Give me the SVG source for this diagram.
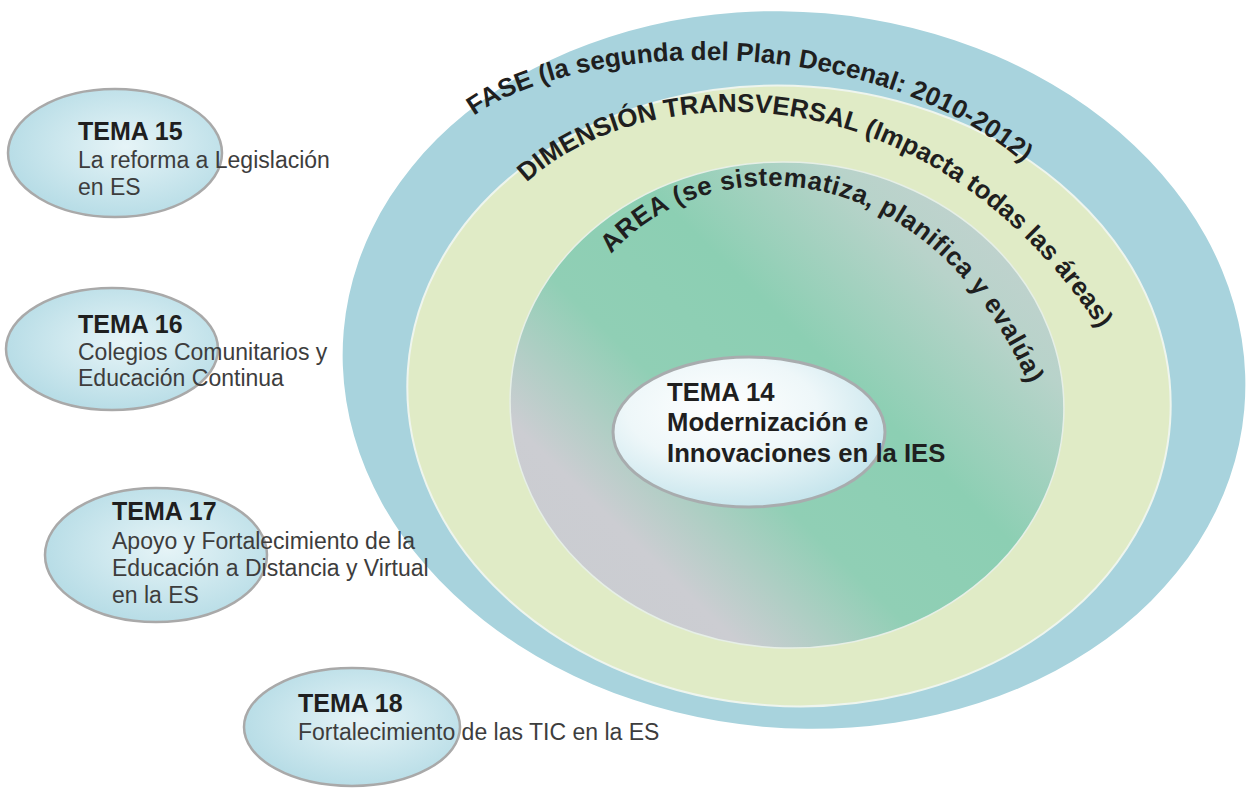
<svg xmlns="http://www.w3.org/2000/svg" width="1247" height="789" viewBox="0 0 1247 789">
<style>
.ring-outer { fill: #a8d3dd; }
.ring-mid { fill: #e0ebc6; stroke: #eef5ee; stroke-width: 2; }
.ring-inner { fill: url(#gInner); stroke: #e6efe6; stroke-width: 1.5; }
.small { fill: url(#gSmall); stroke: #a9a9a9; stroke-width: 2.5; }
.center { fill: url(#gCenter); stroke: #a8acae; stroke-width: 3; }
.b { font-family: "Liberation Sans", Arial, sans-serif; font-weight: bold; font-size: 25px; fill: #1f1f1f; }
.b14 { font-family: "Liberation Sans", Arial, sans-serif; font-weight: bold; font-size: 25.7px; fill: #1f1f1f; }
.r { font-family: "Liberation Sans", Arial, sans-serif; font-size: 23px; fill: #3d3d3d; }
.arc { font-family: "Liberation Sans", Arial, sans-serif; font-weight: bold; font-size: 26px; fill: #1f1f1f; }
</style>
<defs>
<linearGradient id="gInner" x1="1" y1="0" x2="0" y2="1">
<stop offset="0" stop-color="#cbd0d3"/>
<stop offset="0.22" stop-color="#b8d3ca"/>
<stop offset="0.42" stop-color="#8ccfb3"/>
<stop offset="0.6" stop-color="#90cfb5"/>
<stop offset="0.78" stop-color="#cccdd2"/>
<stop offset="1" stop-color="#c8ccd0"/>
</linearGradient>
<radialGradient id="gCenter" cx="0.4" cy="0.35" r="0.7">
<stop offset="0" stop-color="#ffffff"/>
<stop offset="0.5" stop-color="#eef7f9"/>
<stop offset="1" stop-color="#c2e3eb"/>
</radialGradient>
<radialGradient id="gSmall" cx="0.55" cy="0.45" r="0.6">
<stop offset="0" stop-color="#e6f4f7"/>
<stop offset="1" stop-color="#b4dbe5"/>
</radialGradient>
<path id="pFase" d="M 462,125 C 560,40 880,20 1040,178"/>
<path id="pDim" d="M 515,195 C 610,85 920,40 1110,345"/>
<path id="pArea" d="M 605,262 C 690,150 930,135 1035,400"/>
</defs>
<rect width="1247" height="789" fill="#ffffff"/>
<g id="fase">
<ellipse class="ring-outer" cx="794" cy="370" rx="452" ry="358" transform="rotate(5 794 370)"/>
</g>
<g id="dimension">
<ellipse class="ring-mid" cx="789" cy="396" rx="382" ry="310" transform="rotate(4 789 396)"/>
</g>
<g id="area">
<ellipse class="ring-inner" cx="787" cy="405" rx="277" ry="243" transform="rotate(3 787 405)"/>
</g>
<g id="ring-labels">
<text class="arc"><textPath href="#pFase" startOffset="15">FASE (la segunda del Plan Decenal: 2010-2012)</textPath></text>
<text class="arc"><textPath href="#pDim" startOffset="17">DIMENSIÓN TRANSVERSAL (Impacta todas las áreas)</textPath></text>
<text class="arc" letter-spacing="0.5"><textPath href="#pArea" startOffset="10">AREA (se sistematiza, planifica y evalúa)</textPath></text>
</g>
<g id="tema14">
<ellipse class="center" cx="749" cy="432" rx="136" ry="75"/>
<text class="b14" x="667" y="401">TEMA 14</text>
<text class="b14" x="667" y="431">Modernización e</text>
<text class="b14" x="667" y="462">Innovaciones en la IES</text>
</g>
<g id="tema15">
<ellipse class="small" cx="115" cy="153" rx="107" ry="64"/>
<text class="b" x="78" y="140">TEMA 15</text>
<text class="r" x="78" y="168">La reforma a Legislación</text>
<text class="r" x="78" y="195">en ES</text>
</g>
<g id="tema16">
<ellipse class="small" cx="112" cy="349" rx="106" ry="61"/>
<text class="b" x="78" y="333">TEMA 16</text>
<text class="r" x="78" y="360">Colegios Comunitarios y</text>
<text class="r" x="78" y="386">Educación Continua</text>
</g>
<g id="tema17">
<ellipse class="small" cx="156" cy="555" rx="111" ry="67"/>
<text class="b" x="112" y="520">TEMA 17</text>
<text class="r" x="112" y="549">Apoyo y Fortalecimiento de la</text>
<text class="r" x="112" y="576">Educación a Distancia y Virtual</text>
<text class="r" x="112" y="603">en la ES</text>
</g>
<g id="tema18">
<ellipse class="small" cx="352" cy="727" rx="108" ry="59"/>
<text class="b" x="298" y="712">TEMA 18</text>
<text class="r" x="298" y="740">Fortalecimiento de las TIC en la ES</text>
</g>
<g id="connectors"/>
</svg>
